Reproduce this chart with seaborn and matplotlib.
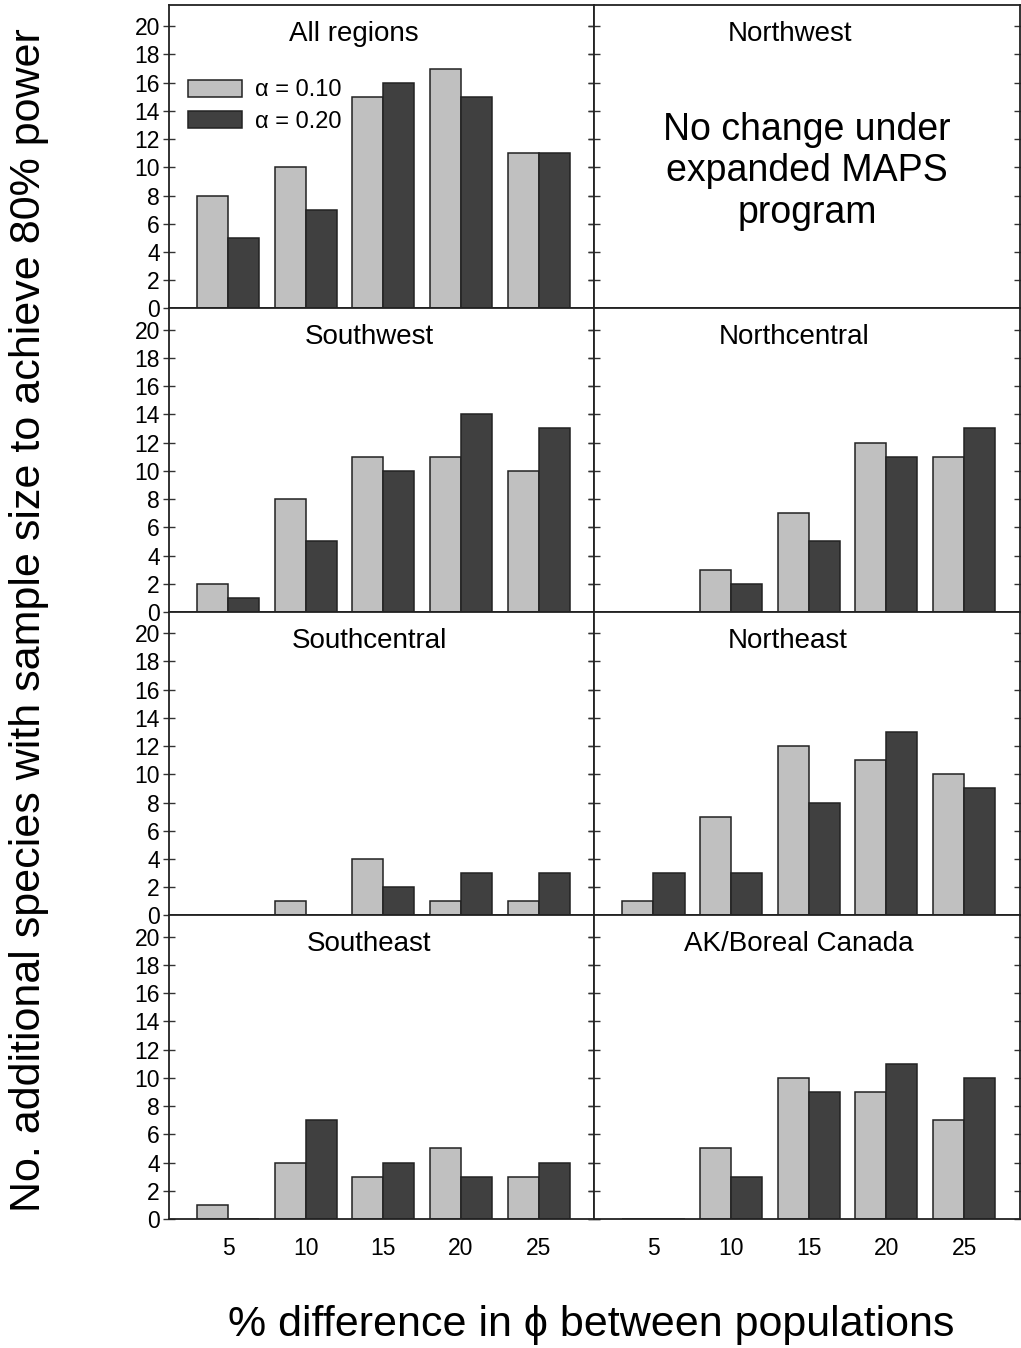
import matplotlib
matplotlib.use("Agg")
import matplotlib.pyplot as plt
import seaborn as sns
import pandas as pd
from matplotlib.patches import Patch

# Percent difference in survival between populations (x categories)
pct_diff = ["5", "10", "15", "20", "25"]
alpha_levels = ["\u03b1 = 0.10", "\u03b1 = 0.20"]

# Additional species reaching 80% power, per region, for each alpha level
all_a10 = [8, 10, 15, 17, 11]
all_a20 = [5, 7, 16, 15, 11]
sw_a10 = [2, 8, 11, 11, 10]
sw_a20 = [1, 5, 10, 14, 13]
nc_a10 = [0, 3, 7, 12, 11]
nc_a20 = [0, 2, 5, 11, 13]
sc_a10 = [0, 1, 4, 1, 1]
sc_a20 = [0, 0, 2, 3, 3]
ne_a10 = [1, 7, 12, 11, 10]
ne_a20 = [3, 3, 8, 13, 9]
se_a10 = [1, 4, 3, 5, 3]
se_a20 = [0, 7, 4, 3, 4]
ak_a10 = [0, 5, 10, 9, 7]
ak_a20 = [0, 3, 9, 11, 10]

regions = {
    "All regions": (all_a10, all_a20),
    "Northwest": None,
    "Southwest": (sw_a10, sw_a20),
    "Northcentral": (nc_a10, nc_a20),
    "Southcentral": (sc_a10, sc_a20),
    "Northeast": (ne_a10, ne_a20),
    "Southeast": (se_a10, se_a20),
    "AK/Boreal Canada": (ak_a10, ak_a20),
}
title_x = {
    "All regions": 0.435, "Northwest": 0.46, "Southwest": 0.47,
    "Northcentral": 0.47, "Southcentral": 0.47, "Northeast": 0.455,
    "Southeast": 0.47, "AK/Boreal Canada": 0.48,
}

sns.set_style("ticks")
plt.rcParams["font.family"] = ["Liberation Sans", "DejaVu Sans"]
plt.rcParams["text.color"] = "black"
plt.rcParams["xtick.labelcolor"] = "black"
plt.rcParams["ytick.labelcolor"] = "black"

colors = ["#c0c0c0", "#404040"]
edge = "#222222"

fig, axes = plt.subplots(4, 2, figsize=(10.21, 13.48), dpi=100,
                         sharex=True, sharey=True)
fig.subplots_adjust(left=0.1655, right=0.999, top=0.9963, bottom=0.0957,
                    wspace=0, hspace=0)

for ax, (name, vals) in zip(axes.flat, regions.items()):
    if vals is not None:
        rows = []
        for lvl, series in zip(alpha_levels, vals):
            for d, v in zip(pct_diff, series):
                rows.append({"diff": d, "n": v, "alpha": lvl})
        df = pd.DataFrame(rows)
        sns.barplot(data=df, x="diff", y="n", hue="alpha", order=pct_diff,
                    hue_order=alpha_levels, palette=colors, ax=ax,
                    edgecolor=edge, linewidth=1.1, legend=False,
                    saturation=1, err_kws={"linewidth": 0})
    else:
        ax.text(0.5, 0.452, "No change under\nexpanded MAPS\nprogram",
                transform=ax.transAxes, ha="center", va="center",
                fontsize=27, linespacing=1.2)
    ax.set_xlabel("")
    ax.set_ylabel("")
    ax.text(title_x[name], 0.905, name, transform=ax.transAxes,
            ha="center", va="center", fontsize=20)
    for sp in ax.spines.values():
        sp.set_visible(True)
        sp.set_color("#222222")
        sp.set_linewidth(1.3)
    ax.tick_params(axis="y", direction="inout", length=9, width=1.0,
                   left=True, right=True, labelsize=16.5, pad=2,
                   color="#333333")
    ax.tick_params(axis="x", length=0, labelsize=16.5, pad=13)

axes[0, 0].set_ylim(0, 21.5)
axes[0, 0].set_yticks(range(0, 21, 2))
axes[0, 0].set_xticks(range(len(pct_diff)))
axes[0, 0].set_xticklabels(pct_diff)
axes[0, 0].set_xlim(-0.76, 4.72)

handles = [Patch(facecolor=c, edgecolor=edge, linewidth=1.1) for c in colors]
axes[0, 0].legend(handles, alpha_levels, loc="upper left",
                  bbox_to_anchor=(0.044, 0.755), frameon=False,
                  borderpad=0, borderaxespad=0, fontsize=17,
                  handlelength=2.3, handleheight=0.72, handletextpad=0.55,
                  labelspacing=0.4)

fig.text(0.028, 0.54, "No. additional species with sample size to achieve 80% power",
         rotation=90, ha="center", va="center", fontsize=31)
fig.text(0.579, 0.017, "% difference in \u03d5 between populations",
         ha="center", va="center", fontsize=31)

fig.savefig("out.png", dpi=100)
